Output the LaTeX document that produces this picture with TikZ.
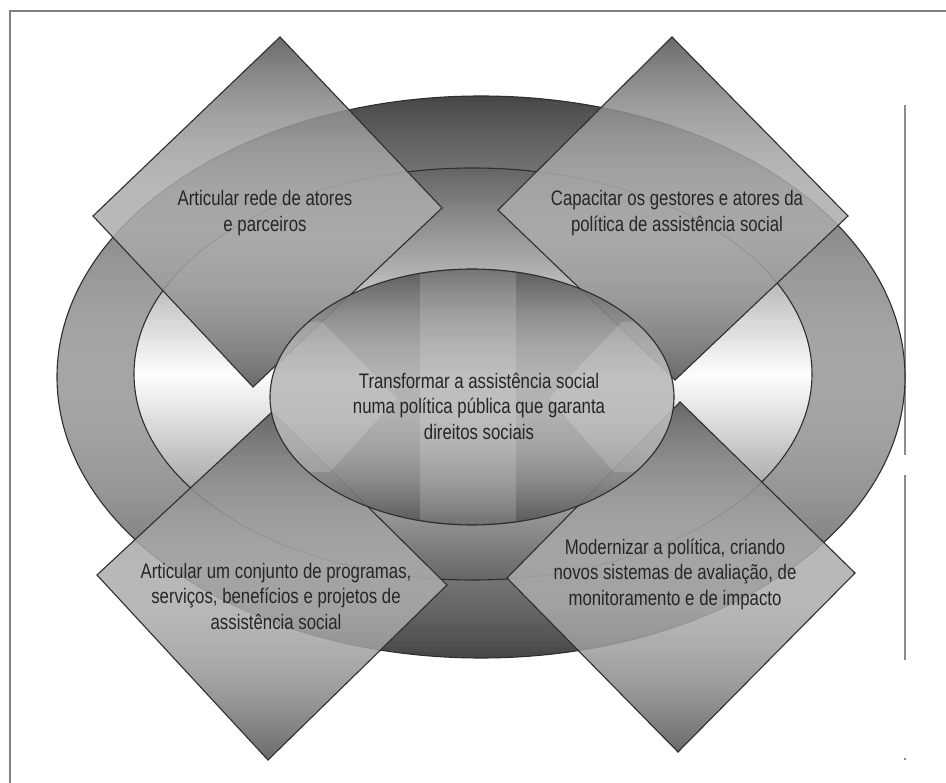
\documentclass[tikz,border=0pt]{standalone}
\usepackage{fontspec}
\newfontfamily\condsans[FakeStretch=0.8]{Liberation Sans}

% horizontal strips, dark at #2 and #3, light in the middle
\newcommand{\stripfill}[6]{%
  \begin{scope}
    \clip #1;
    \foreach \k in {0,...,99}{
      \pgfmathsetmacro{\ya}{#2+(#3-(#2))/100*\k}
      \pgfmathsetmacro{\yb}{#2+(#3-(#2))/100*(\k+1.6)}
      \pgfmathtruncatemacro{\mix}{100*(1-abs(2*(\k+0.5)/100-1)^#6)}
      \fill[#5!\mix!#4] (0,\ya) rectangle (946,\yb);
    }
  \end{scope}}

\newcommand{\aimdiamond}[6]{%
  \begin{scope}[transparency group,opacity=0.86]
    \stripfill{(#1) -- (#2) -- (#3) -- (#4) -- cycle}{#5}{#6}{diamdark}{diamlight}{2}
  \end{scope}
  \draw[rim] (#1) -- (#2) -- (#3) -- (#4) -- cycle;}

\begin{document}
\begin{tikzpicture}[x=1pt,y=1pt]
  \colorlet{ringdark}{black!72}
  \colorlet{ringmid}{black!35}
  \colorlet{holedark}{black!60}
  \colorlet{diamdark}{black!68}
  \colorlet{diamlight}{black!32}
  \colorlet{hubdark}{black!68}
  \colorlet{hublight}{black!32}
  \colorlet{rimline}{black!82}
  \colorlet{framecol}{black!50}
  \colorlet{textcol}{black!85}
  \tikzstyle{rim}=[draw=rimline,line width=1.1]
  \tikzstyle{glow}=[white,fill opacity=0.16]
  \tikzstyle{aimtext}=[text=textcol,align=center,font=\condsans\fontsize{21}{25.5}\selectfont]

  \useasboundingbox (0,0) rectangle (946,-783);

  % Frame
  \draw[framecol,line width=2] (10,-783) -- (10,-11) -- (946,-11);
  \draw[black!45,line width=1.2] (905,-105) -- (905,-455) (905,-475) -- (905,-660);
  \fill[black!45] (904,-758) rectangle (906,-760);

  % Outer ring and hole
  \stripfill{(481,-377) ellipse [x radius=424,y radius=281]}{-96}{-658}{ringdark}{ringmid}{2}
  \draw[rim] (481,-377) ellipse [x radius=424,y radius=281];
  \stripfill{(473,-374) ellipse [x radius=339,y radius=206]}{-168}{-580}{holedark}{white}{1}
  \draw[rim] (473,-374) ellipse [x radius=339,y radius=206];

  % Diamonds
  \aimdiamond{280,-37}{442,-208}{253,-387}{93,-216}{-37}{-387}
  \aimdiamond{672,-37}{848,-216}{675,-380}{498,-210}{-37}{-380}
  \aimdiamond{272,-412}{447,-585}{268,-760}{97,-575}{-412}{-760}
  \aimdiamond{680,-402}{855,-573}{678,-752}{507,-578}{-402}{-752}

  % Centre ellipse with faint arrows
  \begin{scope}[transparency group,opacity=0.9]
    \stripfill{(472,-397) ellipse [x radius=202,y radius=128]}{-269}{-525}{hubdark}{hublight}{2}
  \end{scope}
  \begin{scope}
    \clip (472,-397) ellipse [x radius=201,y radius=127];
    \fill[glow] (322,-322) -- (397,-398) -- (330,-472) -- (260,-472) -- (260,-322) -- cycle;
    \fill[glow] (622,-322) -- (549,-398) -- (614,-472) -- (684,-472) -- (684,-322) -- cycle;
    \fill[glow] (420,-262) rectangle (516,-530);
  \end{scope}
  \draw[rim] (472,-397) ellipse [x radius=202,y radius=128];

  % Texts
  \node[aimtext] (rede) at (265,-213) {Articular rede de atores\\e parceiros};
  \node[aimtext] (capacitar) at (677,-213) {Capacitar os gestores e atores da\\pol\'{\i}tica de assist\^encia social};
  \node[aimtext] (transformar) at (479,-406) {Transformar a assist\^encia social\\numa pol\'{\i}tica p\'ublica que garanta\\direitos sociais};
  \node[aimtext] (programas) at (276,-596) {Articular um conjunto de programas,\\servi\c{c}os, benef\'{\i}cios e projetos de\\assist\^encia social};
  \node[aimtext] (modernizar) at (675,-574) {Modernizar a pol\'{\i}tica, criando\\novos sistemas de avalia\c{c}\~ao, de\\monitoramento e de impacto};
\end{tikzpicture}
\end{document}
